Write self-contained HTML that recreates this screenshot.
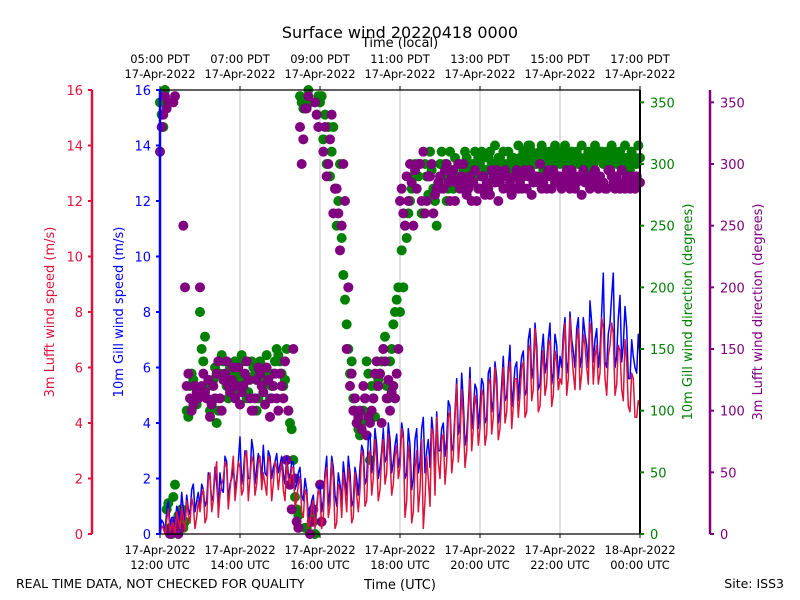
<!DOCTYPE html>
<html><head><meta charset="utf-8">
<style>
html,body{margin:0;padding:0;background:#fff;}
svg{display:block;font-family:"DejaVu Sans","Liberation Sans",sans-serif;}
</style></head>
<body>
<svg id="chart" width="800" height="600" viewBox="0 0 800 600" xmlns="http://www.w3.org/2000/svg">
<rect x="0" y="0" width="800" height="600" fill="#fff"/>
<g id="grid"></g>
<g id="marks"></g>
<g id="axes"></g>
<text x="400" y="38" font-size="16" text-anchor="middle">Surface wind 20220418 0000</text>
<text x="400" y="47" font-size="13" text-anchor="middle">Time (local)</text>
<text x="400" y="589" font-size="13" text-anchor="middle">Time (UTC)</text>
<text x="16" y="588" font-size="12.5">REAL TIME DATA, NOT CHECKED FOR QUALITY</text>
<text x="784" y="588" font-size="12.5" text-anchor="end">Site: ISS3</text>
</svg>
<script>
// A arrays: minutes 0,5,10,... after 12:00 UTC; B arrays: minutes 2.5,7.5,...
const gillSpeed = [
0.2,0.4,0.8,0.3,0.6,1.0,0.5,0.9,1.4,0.7,1.8,1.2,
1.0,1.6,1.2,2.0,1.4,1.8,2.2,1.5,2.6,1.8,2.4,2.0,
3.5,2.2,2.8,2.0,3.0,2.4,2.6,3.2,2.1,2.8,2.4,2.9,
2.5,2.2,2.8,2.0,2.6,1.8,2.4,1.2,1.6,0.8,1.4,1.0,
1.8,1.2,2.8,1.6,2.4,1.0,1.8,2.6,1.4,2.2,1.2,2.0,
2.4,3.0,2.0,3.6,2.6,3.2,2.4,3.8,2.8,3.4,2.6,3.6,
2.8,3.6,2.2,3.2,2.0,3.8,2.6,4.2,3.0,2.4,3.6,4.4,
3.0,4.0,3.4,4.6,3.2,5.6,4.0,4.8,3.6,6.0,4.4,5.2,
4.6,5.4,4.2,6.0,4.8,5.6,4.4,6.4,5.0,6.8,5.2,6.2,
5.8,6.6,5.2,7.4,6.0,6.8,5.4,7.2,6.2,7.6,5.8,6.8,
6.4,7.2,5.8,8.0,6.6,7.4,6.0,7.8,6.8,8.4,6.2,7.4,
6.6,9.4,6.0,7.6,9.4,6.4,8.6,6.8,7.4,5.6,6.4,5.8,6.4];
const gillSpeedB = [
0.5,0.1,1.2,0.6,0.2,0.8,1.5,0.4,0.9,1.6,0.8,1.5,
1.8,1.0,2.2,1.2,2.4,1.0,1.6,2.8,1.2,2.0,1.6,2.6,
1.8,3.0,2.0,3.4,1.8,2.9,2.0,2.2,3.0,2.0,2.6,2.2,
2.8,1.8,2.2,2.6,1.6,2.2,1.4,2.0,0.6,1.2,0.6,1.6,
0.8,2.2,1.0,2.8,1.4,2.2,1.2,2.0,2.8,1.0,2.4,1.4,
3.2,1.8,3.4,2.2,3.8,2.0,3.0,2.6,4.0,2.2,3.2,2.4,
4.0,2.0,3.8,1.6,3.4,2.2,3.8,2.2,3.4,4.2,2.2,3.0,
3.8,2.8,4.8,3.0,4.4,3.6,5.8,3.2,4.6,3.8,5.4,3.8,
5.6,4.0,5.8,4.4,6.2,4.0,5.4,4.8,6.0,4.6,6.0,4.8,
6.4,5.0,7.0,5.6,7.6,5.2,6.6,5.8,7.0,5.4,7.2,5.6,
6.0,7.8,6.2,7.0,6.0,7.8,6.4,7.2,6.0,7.6,7.0,6.0,
8.0,6.2,7.2,8.6,6.0,7.8,6.2,8.2,5.6,7.0,6.0,7.2];
const lufftSpeed = [
0.0,0.2,0.5,0.1,0.4,0.8,0.2,0.6,1.2,0.4,1.0,0.6,
0.8,1.6,0.6,2.2,1.2,2.6,1.4,2.0,2.4,1.6,2.8,1.8,
2.4,1.6,3.0,2.0,2.6,1.8,2.8,2.2,1.4,2.6,1.8,2.4,
2.2,1.6,2.6,1.8,2.4,1.2,2.0,0.6,1.4,0.4,1.2,0.8,
1.4,0.6,2.4,1.0,2.0,0.4,1.6,2.2,0.8,1.8,0.6,1.4,
1.6,2.8,1.2,3.0,2.0,2.6,1.6,3.4,2.2,2.8,1.8,3.2,
2.4,3.4,1.2,2.6,0.8,3.0,1.6,0.2,2.8,1.0,3.6,4.2,
2.0,3.6,2.6,4.4,2.8,5.4,3.4,4.2,3.0,5.6,3.8,4.6,
3.8,5.0,3.6,5.6,4.2,5.2,3.8,6.0,4.4,6.2,4.6,5.6,
5.0,6.2,4.4,6.8,5.2,6.4,4.6,6.6,5.4,7.0,5.0,6.2,
5.6,6.8,5.0,7.8,5.8,7.0,5.2,7.2,6.0,7.6,5.4,6.8,
5.8,7.4,5.0,6.8,7.2,5.4,6.6,4.8,6.2,4.4,5.6,4.2,4.6];
const lufftSpeedB = [
0.3,0.0,0.9,0.3,0.0,0.5,1.0,0.1,0.7,1.3,0.2,1.2,
1.4,0.4,2.0,0.8,2.2,0.6,1.8,2.6,0.9,2.2,1.2,2.6,
1.4,2.8,1.2,2.8,1.4,2.6,1.6,1.8,2.8,1.2,2.6,1.6,
2.6,1.2,2.0,2.4,1.0,1.8,0.8,1.6,0.2,1.0,0.2,1.6,
0.2,2.0,0.6,2.6,0.2,1.8,0.6,1.6,2.4,0.4,2.2,0.8,
3.0,1.0,2.8,1.4,3.4,1.2,2.8,1.8,3.6,1.4,2.8,2.0,
3.8,0.6,3.2,0.4,2.4,0.8,3.4,1.2,2.0,3.8,1.4,2.6,
3.4,1.8,4.2,2.2,4.2,2.6,5.2,2.4,4.4,3.0,5.0,3.2,
5.2,3.2,5.4,3.6,6.0,3.4,5.0,4.0,5.8,3.8,5.6,4.2,
6.0,4.2,6.6,4.8,7.4,4.4,6.0,5.0,6.8,4.6,6.6,5.2,
5.4,7.6,5.6,6.6,5.2,7.4,5.8,6.8,5.4,7.2,6.4,5.4,
7.8,5.6,6.4,7.6,5.0,6.8,5.2,7.0,4.6,5.8,4.2,4.8];
const gillDir = [
350,330,20,5,30,10,15,5,100,120,125,105,
180,140,110,100,125,90,130,140,120,135,115,125,
130,140,110,125,135,100,140,120,145,110,130,150,
140,120,150,90,60,20,355,345,5,350,10,340,
350,320,300,290,330,250,300,210,170,130,110,90,
80,100,140,60,110,120,130,150,120,140,170,190,
180,200,240,270,290,280,300,260,290,310,280,250,
300,290,270,310,280,290,300,295,305,285,300,290,
300,305,295,310,300,290,305,310,300,295,305,300,
305,310,300,315,305,300,310,295,305,310,300,305,
300,310,305,295,300,310,305,300,295,305,300,310,
305,300,310,295,305,300,310,300,305,295,305,300,305];
const gillDirB = [
340,360,25,0,40,15,20,10,95,130,110,115,
150,160,120,105,135,100,145,125,110,130,140,120,
145,125,115,140,130,110,125,135,130,120,140,145,
130,125,100,85,30,15,350,5,360,15,0,355,
355,340,330,310,280,270,240,190,150,140,100,85,
90,110,130,120,95,125,140,160,110,150,180,200,
230,250,260,280,300,290,260,300,275,295,270,285,
310,300,280,295,305,300,290,310,300,295,310,305,
310,295,305,300,315,305,300,295,310,305,300,315,
300,305,315,310,300,305,315,310,300,305,315,310,
305,315,300,310,305,300,315,305,310,300,315,305,
310,305,300,315,310,305,300,315,300,310,305,315];
const lufftDir = [
310,340,345,0,350,10,5,250,120,110,105,115,
200,130,110,95,120,130,110,125,140,115,135,120,
105,120,140,110,100,125,130,115,135,95,120,110,
130,110,60,40,150,10,330,320,345,0,20,340,
40,310,290,320,260,280,230,300,150,120,100,90,
100,120,80,90,110,140,130,150,110,100,120,130,
270,260,290,300,250,280,300,310,270,290,260,280,
290,280,300,270,295,285,280,300,275,290,285,270,
280,290,285,275,290,295,285,280,290,285,280,295,
285,290,280,295,285,290,300,285,280,290,295,285,
290,285,295,280,290,285,290,295,285,280,290,285,
290,285,280,295,285,290,280,285,290,280,285,290,285];
const lufftDirB = [
330,355,350,5,355,0,15,200,130,100,120,110,
120,115,125,105,110,140,100,130,120,125,110,135,
115,130,125,100,110,135,120,105,125,110,130,100,
120,140,100,20,45,5,300,345,355,10,350,330,
10,330,300,340,280,260,250,270,200,130,110,95,
85,110,95,100,130,120,90,140,125,115,110,150,
280,250,270,285,295,300,270,260,290,300,275,285,
280,295,285,290,270,300,290,285,280,270,295,280,
290,275,280,295,285,270,290,295,280,275,290,280,
280,295,290,275,290,285,280,290,295,280,285,290,
280,290,285,295,280,290,275,285,290,285,295,280,
285,280,295,290,280,285,295,280,285,290,280,285];
const utcTicks = ["12:00 UTC","14:00 UTC","16:00 UTC","18:00 UTC","20:00 UTC","22:00 UTC","00:00 UTC"];
const utcDates = ["17-Apr-2022","17-Apr-2022","17-Apr-2022","17-Apr-2022","17-Apr-2022","17-Apr-2022","18-Apr-2022"];
const pdtTicks = ["05:00 PDT","07:00 PDT","09:00 PDT","11:00 PDT","13:00 PDT","15:00 PDT","17:00 PDT"];
const speedTicks = [0,2,4,6,8,10,12,14,16];
const dirTicks = [0,50,100,150,200,250,300,350];

const NS="http://www.w3.org/2000/svg";
const PL=160,PR=640,PT=90,PB=534;
const xT = m => PL + (PR-PL)*m/720;
const yS = v => PB - (PB-PT)*v/16;
const yD = d => PB - (PB-PT)*d/360;
function mk(tag, attrs, parent, text){
  const e=document.createElementNS(NS,tag);
  for(const k in attrs) e.setAttribute(k,attrs[k]);
  if(text!==undefined) e.textContent=text;
  parent.appendChild(e); return e;
}
const gridG=document.getElementById('grid');
const marksG=document.getElementById('marks');
const axesG=document.getElementById('axes');

utcTicks.forEach((t,i)=>{
  const x=xT(i*120);
  const g=mk('line',{x1:x,y1:PT,x2:x,y2:PB,stroke:'#b0b0b0','stroke-width':0.8},gridG);
  
  
});

function dots(arr,offset,color,name){
  arr.forEach((d,i)=>{
    const c=mk('circle',{cx:xT(i*5+offset),cy:yD(d),r:5,fill:color},marksG);
    
    
  });
}
dots(gillDir,0,'#008000','gill-direction-point');
dots(gillDirB,2.5,'#008000','gill-direction-point');
dots(lufftDir,0,'#800080','lufft-direction-point');
dots(lufftDirB,2.5,'#800080','lufft-direction-point');

function line(a,b,color,name){
  const pts=[];
  a.forEach((v,i)=>{
    pts.push(xT(i*5).toFixed(1)+','+yS(v).toFixed(1));
    if(i<b.length) pts.push(xT(i*5+2.5).toFixed(1)+','+yS(b[i]).toFixed(1));
  });
  const pl=mk('polyline',{points:pts.join(' '),fill:'none',stroke:color,'stroke-width':1.5,'stroke-linejoin':'round'},marksG);
  
  
}
line(gillSpeed,gillSpeedB,'#0000ff','gill-speed-line');
line(lufftSpeed,lufftSpeedB,'#dc143c','lufft-speed-line');

const topSpine=mk('line',{x1:PL,y1:PT,x2:PR,y2:PT,stroke:'#000','stroke-width':1.2},axesG);


const botSpine=mk('line',{x1:PL,y1:PB,x2:PR,y2:PB,stroke:'#000','stroke-width':1.2},axesG);


const rSpine=mk('line',{x1:PR,y1:PT,x2:PR,y2:PB,stroke:'#000','stroke-width':2},axesG);



utcTicks.forEach((t,i)=>{
  const x=xT(i*120);
  mk('line',{x1:x,y1:PB,x2:x,y2:PB+4,stroke:'#000'},axesG);
  mk('line',{x1:x,y1:PT,x2:x,y2:PT-4,stroke:'#000'},axesG);
  const a=mk('text',{x:x,y:554,'font-size':11.5,'text-anchor':'middle'},axesG,utcDates[i]);
  
  
  const b=mk('text',{x:x,y:569,'font-size':11.5,'text-anchor':'middle'},axesG,t);
  
  
  const c=mk('text',{x:x,y:63,'font-size':11.5,'text-anchor':'middle'},axesG,pdtTicks[i]);
  
  
  const d=mk('text',{x:x,y:78,'font-size':11.5,'text-anchor':'middle'},axesG,'17-Apr-2022');
  
  
});

function speedAxis(xs,color,name,labelX,title){
  const s=mk('line',{x1:xs,y1:PT,x2:xs,y2:PB,stroke:color,'stroke-width':2.5},axesG);
  
  
  speedTicks.forEach(v=>{
    const y=yS(v);
    mk('line',{x1:xs-4,y1:y,x2:xs,y2:y,stroke:color,'stroke-width':2},axesG);
    const t=mk('text',{x:xs-9,y:y+5,'font-size':13,'text-anchor':'end',fill:color},axesG,String(v));
    
    
  });
  const tt=mk('text',{x:labelX,y:312,'font-size':13,'text-anchor':'middle',fill:color,transform:`rotate(-90 ${labelX} 312)`},axesG,title);
  
  
}
speedAxis(92,'#dc143c','lufft-speed-axis',54,'3m Lufft wind speed (m/s)');
speedAxis(160,'#0000ff','gill-speed-axis',123,'10m Gill wind speed (m/s)');

function dirAxis(xs,color,name,labelX,title,spine){
  if(spine){
    const s=mk('line',{x1:xs,y1:PT,x2:xs,y2:PB,stroke:color,'stroke-width':2.5},axesG);
    
    
  }
  dirTicks.forEach(v=>{
    const y=yD(v);
    mk('line',{x1:xs,y1:y,x2:xs+4,y2:y,stroke:color,'stroke-width':2},axesG);
    const t=mk('text',{x:xs+10,y:y+5,'font-size':13,fill:color},axesG,String(v));
    
    
  });
  const tt=mk('text',{x:labelX,y:312,'font-size':13,'text-anchor':'middle',fill:color,transform:`rotate(-90 ${labelX} 312)`},axesG,title);
  
  
}
dirAxis(640,'#008000','gill-direction-axis',692,'10m Gill wind direction (degrees)',false);
dirAxis(710,'#800080','lufft-direction-axis',762,'3m Lufft wind direction (degrees)',true);
</script>
</body></html>
